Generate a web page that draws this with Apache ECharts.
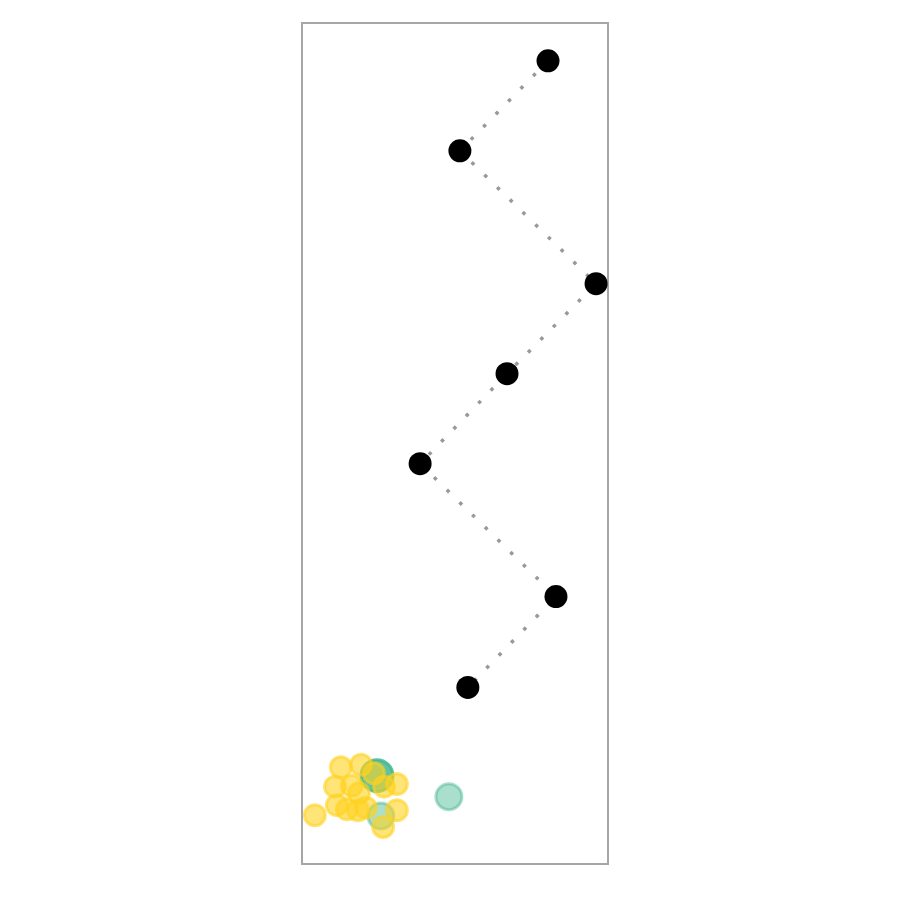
<!DOCTYPE html>
<html>
<head>
<meta charset="utf-8">
<script src="https://cdn.jsdelivr.net/npm/echarts@6/dist/echarts.min.js"></script>
<style>html,body{margin:0;padding:0;background:#fff}#c{width:900px;height:900px}</style>
</head>
<body>
<div id="c"></div>
<script>
// Path points (black), connected in order
const pathX = [80.4, 51.6, 96.1, 67.0, 38.6, 83.0, 54.2];
const pathY = [95.5, 84.8, 69.0, 58.3, 47.6, 31.8, 21.0];

// Yellow cluster points
const yellowX = [4.2, 12.7, 19.3, 10.8, 16.3, 11.4, 14.7, 18.3, 18.6, 20.9, 23.5, 26.8, 31.0, 31.0, 26.5];
const yellowY = [5.8, 11.5, 11.8, 9.2, 9.3, 7.0, 6.5, 6.4, 8.4, 6.7, 10.8, 9.2, 9.5, 6.4, 4.4];

// Teal points with counts
const tealX = [24.5, 25.8, 48.0];
const tealY = [10.5, 5.7, 8.0];
const tealN = [3, 1, 1];

const pathData = pathX.map((x, i) => [x, pathY[i]]);
const yellowData = yellowX.map((x, i) => [x, yellowY[i]]);
const tealData = tealX.map((x, i) => ({
  value: [x, tealY[i], tealN[i]],
  itemStyle: { opacity: 1 - Math.pow(0.55, tealN[i]) }
}));

const chart = echarts.init(document.getElementById('c'), null, { renderer: 'canvas' });
chart.setOption({
  animation: false,
  backgroundColor: '#ffffff',
  grid: {
    left: 302, top: 23, width: 306, height: 841,
    show: true, borderColor: '#a6a6a6', borderWidth: 2, backgroundColor: 'transparent'
  },
  xAxis: { type: 'value', min: 0, max: 100, show: false },
  yAxis: { type: 'value', min: 0, max: 100, show: false },
  series: [
    {
      type: 'line', data: pathData, symbol: 'none', z: 1,
      lineStyle: { color: '#999999', width: 3.5, type: [3.5, 14.3], cap: 'butt', opacity: 1 }
    },
    {
      type: 'scatter', data: pathData, symbolSize: 23, z: 3,
      itemStyle: { color: '#000000', opacity: 1 }
    },
    {
      type: 'scatter', data: tealData, z: 2,
      symbolSize: v => 26 + 3 * (v[2] - 1),
      itemStyle: { color: '#42b690', borderColor: '#42b690', borderWidth: 3 }
    },
    {
      type: 'scatter', data: yellowData, symbolSize: 21, z: 2,
      itemStyle: { color: '#ffd21e', borderColor: '#ffd21e', borderWidth: 3, opacity: 0.6 }
    }
  ]
});
</script>
</body>
</html>
